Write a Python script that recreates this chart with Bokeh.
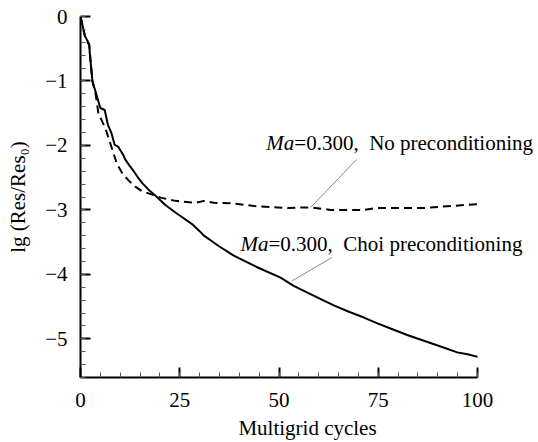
from bokeh.plotting import figure
from bokeh.models import Range1d, FixedTicker, CustomJSTickFormatter, Label, ColumnDataSource
from bokeh.embed import file_html
from bokeh.resources import INLINE

# ---- data ----
solid_x = [0, 1.1, 2.2, 2.35, 3.0, 4.0, 5.0, 6.1, 6.9, 7.8, 8.6, 9.5, 10.7,
           11.3, 12.3, 13.4, 14.4, 15.5, 17.2, 18.9, 21.3, 23.9, 26.0, 28.1, 30.0, 31.1,
           34.8, 38.6, 44.5, 50.4, 53.7, 58.7, 63.8, 67.6, 71.4, 74.8, 78.1, 82.3, 86.5,
           90.7, 94.9, 97.5, 100]
solid_y = [0, -0.30, -0.43, -0.58, -1.0, -1.21, -1.42, -1.45, -1.68, -1.81, -1.99, -2.02,
           -2.14, -2.22, -2.31, -2.40, -2.49, -2.58, -2.69, -2.78,
           -2.92, -3.04, -3.13, -3.22, -3.33, -3.40, -3.56, -3.71, -3.89, -4.05, -4.18,
           -4.33, -4.48, -4.58, -4.67, -4.76, -4.84, -4.94, -5.03, -5.12, -5.21, -5.24, -5.28]

dash_x = [0, 1.1, 2.2, 3.0, 3.8, 4.5, 5.4, 6.3, 7.3, 8.3, 9.2, 10.6, 12.2, 13.8, 15.5, 18.9,
          20.2, 23.9, 29.0, 31.1, 33.6, 38.6, 43.7, 48.7, 52.1, 58.0, 63.0, 67.0, 71.4,
          74.7, 79.8, 86.5, 93.2, 100]
dash_y = [0, -0.30, -0.45, -1.0, -1.2, -1.5, -1.62, -1.74, -1.93, -2.12, -2.29, -2.44, -2.55,
          -2.64, -2.71, -2.78, -2.81, -2.86, -2.89, -2.86, -2.89, -2.90, -2.94, -2.96,
          -2.97, -2.96, -3.0, -3.0, -3.0, -2.97, -2.97, -2.97, -2.94, -2.91]

x_ticks = [0, 25, 50, 75, 100]
x_minor = [i * 5 for i in range(21)]
y_ticks = [0, -1, -2, -3, -4, -5]
y_minor = [round(-0.2 * i, 1) for i in range(29)]

label_no = "=0.300,\u00a0\u00a0No preconditioning"
label_choi = "=0.300,\u00a0\u00a0Choi preconditioning"
label_ma = "Ma"

FONT = "Liberation Serif"

FRAME_W = 454
FRAME_H = 361
AXIS_PX = 397  # pixels spanned by x = 0..100

p = figure(frame_width=FRAME_W, frame_height=FRAME_H, output_backend="svg", toolbar_location=None,
           x_range=Range1d(0, 100 * FRAME_W / AXIS_PX), y_range=Range1d(-5.6, 0),
           min_border_left=80, min_border_right=2, min_border_top=16, min_border_bottom=64)
p.outline_line_color = None
p.xgrid.visible = False
p.ygrid.visible = False
p.background_fill_color = "white"

p.line(solid_x, solid_y, line_color="black", line_width=2)
p.line(dash_x, dash_y, line_color="black", line_width=2, line_dash="8 5")

fmt = CustomJSTickFormatter(code="return tick < 0 ? '\\u2212' + Math.abs(tick) : String(tick);")

for ax, ticks, minor in ((p.xaxis[0], x_ticks, x_minor), (p.yaxis[0], y_ticks, y_minor)):
    ax.ticker = FixedTicker(ticks=ticks, minor_ticks=minor)
    ax.formatter = fmt
    ax.axis_line_width = 2
    ax.axis_line_color = "black"
    ax.major_tick_in = 10
    ax.major_tick_out = 0
    ax.minor_tick_in = 5
    ax.minor_tick_out = 0
    ax.major_tick_line_width = 2
    ax.minor_tick_line_width = 1
    ax.major_tick_line_color = "black"
    ax.minor_tick_line_color = "#555555"
    ax.major_label_text_font = FONT
    ax.major_label_text_font_size = "21px"
    ax.major_label_text_color = "black"
    ax.axis_label_text_font = FONT
    ax.axis_label_text_font_size = "21px"
    ax.axis_label_text_font_style = "normal"
    ax.axis_label_text_color = "black"

p.xaxis.bounds = (0, 100)
p.xaxis.axis_label = "Multigrid cycles"
p.yaxis.axis_label = "lg (Res/Res\u2080)"
p.xaxis.major_label_standoff = 15
p.xaxis.axis_label_standoff = 6
p.yaxis.major_label_standoff = 13
p.yaxis.axis_label_standoff = 12

# annotations
lead = ColumnDataSource(dict(x0=[69.5, 63.3], y0=[-2.22, -3.74], x1=[58.0, 53.3], y1=[-2.96, -4.10]))
p.segment("x0", "y0", "x1", "y1", source=lead, line_color="#888888", line_width=1)

for (lx, ly, txt) in ((46.8, -1.96, label_no), (40.3, -3.53, label_choi)):
    p.add_layout(Label(x=lx, y=ly, text=label_ma, text_font=FONT, text_font_size="21px",
                       text_font_style="italic", text_baseline="middle", text_align="left",
                       text_color="black"))
    p.add_layout(Label(x=lx, y=ly, x_offset=28, text=txt, text_font=FONT, text_font_size="21px",
                       text_baseline="middle", text_align="left", text_color="black"))

open("out.html", "w").write(file_html(p, INLINE))
